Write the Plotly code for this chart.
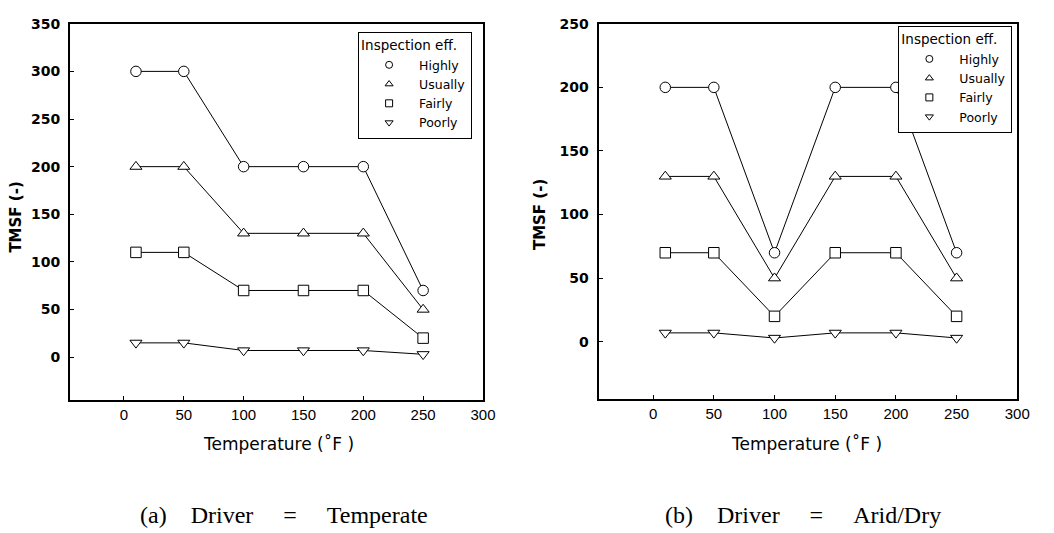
import plotly.graph_objects as go

W, H = 1054, 533

temps = [10, 50, 100, 150, 200, 250]
levels = ["Highly", "Usually", "Fairly", "Poorly"]
symbols = ["circle", "triangle-up", "square", "triangle-down"]

temperate_highly = [300, 300, 200, 200, 200, 70]
temperate_usually = [200, 200, 130, 130, 130, 50]
temperate_fairly = [110, 110, 70, 70, 70, 20]
temperate_poorly = [15, 15, 7, 7, 7, 3]

arid_highly = [200, 200, 70, 200, 200, 70]
arid_usually = [130, 130, 50, 130, 130, 50]
arid_fairly = [70, 70, 20, 70, 70, 20]
arid_poorly = [7, 7, 3, 7, 7, 3]

x_ticks = [0, 50, 100, 150, 200, 250, 300]
y_ticks_a = [0, 50, 100, 150, 200, 250, 300, 350]
y_ticks_b = [0, 50, 100, 150, 200, 250]

panels = [
    dict(series=[temperate_highly, temperate_usually, temperate_fairly, temperate_poorly],
         xa="x", ya="y", legend="legend"),
    dict(series=[arid_highly, arid_usually, arid_fairly, arid_poorly],
         xa="x2", ya="y2", legend="legend2"),
]

SANS = "Liberation Sans, Arial, sans-serif"
WIDE = "DejaVu Sans, Liberation Sans, sans-serif"
NARROW = "Liberation Sans Narrow, Arial Narrow, Liberation Sans, sans-serif"
SERIF = "Liberation Serif, Times New Roman, serif"

fig = go.Figure()
for p in panels:
    for name, sym, vals in zip(levels, symbols, p["series"]):
        fig.add_trace(go.Scatter(
            x=temps, y=vals, mode="lines+markers",
            line=dict(color="black", width=1),
            marker=dict(symbol=sym, size=10.5, color="white",
                        line=dict(color="black", width=1)),
            xaxis=p["xa"], yaxis=p["ya"], showlegend=False, name=name))
    for name, sym in zip(levels, symbols):
        fig.add_trace(go.Scatter(
            x=[None], y=[None], mode="markers",
            marker=dict(symbol=sym, size=7, color="white",
                        line=dict(color="black", width=1)),
            xaxis=p["xa"], yaxis=p["ya"], showlegend=True, name=name,
            legend=p["legend"]))

def px_x(v):
    return v / W

def px_y(v):
    return 1 - v / H

axis_common = dict(showline=True, linecolor="black", linewidth=2, mirror=True,
                   showgrid=False, zeroline=False, ticks="inside", ticklen=4,
                   tickcolor="black", tickwidth=1)

xfont = dict(size=15, family=NARROW)
yfont = dict(size=14, family=WIDE, weight="bold")

fig.update_layout(
    width=W, height=H,
    margin=dict(l=0, r=0, t=0, b=0),
    paper_bgcolor="white", plot_bgcolor="white",
    font=dict(family=SANS, color="black"),
    xaxis=dict(domain=[px_x(71), px_x(489)], range=[-45, 300], tickvals=x_ticks,
               tickfont=xfont, anchor="y", **axis_common),
    yaxis=dict(domain=[px_y(398), px_y(16)], range=[-45, 350], tickvals=y_ticks_a,
               tickfont=yfont, ticklabelstandoff=5, anchor="x", **axis_common),
    xaxis2=dict(domain=[px_x(606), px_x(1030)], range=[-45, 300], tickvals=x_ticks,
                tickfont=xfont, anchor="y2", **axis_common),
    yaxis2=dict(domain=[px_y(397), px_y(16)], range=[-45, 250], tickvals=y_ticks_b,
                tickfont=yfont, ticklabelstandoff=5, anchor="x2", **axis_common),
)

legend_common = dict(bgcolor="white", bordercolor="black", borderwidth=1,
                     font=dict(size=12.5, family=WIDE, color="black"),
                     title=dict(text="Inspection eff.", font=dict(size=13.5, family=WIDE)),
                     itemwidth=50, tracegroupgap=0, xanchor="right", yanchor="top",
                     xref="paper", yref="paper")
fig.update_layout(
    legend=dict(x=px_x(478), y=px_y(24), **legend_common),
    legend2=dict(x=px_x(1025), y=px_y(18), **legend_common),
)

sp1 = "\u00a0" * 4
sp2 = "\u00a0" * 5
annotations = [
    dict(text="TMSF (-)", x=px_x(16), y=px_y(212), textangle=-90,
         font=dict(size=15, family=WIDE, weight="bold")),
    dict(text="TMSF (-)", x=px_x(547), y=px_y(210), textangle=-90,
         font=dict(size=15, family=WIDE, weight="bold")),
    dict(text="Temperature (\u02daF )", x=px_x(282), y=px_y(443),
         font=dict(size=17, family=WIDE)),
    dict(text="Temperature (\u02daF )", x=px_x(817), y=px_y(443),
         font=dict(size=17, family=WIDE)),
    dict(text=f"(a){sp1}Driver{sp2}={sp2}Temperate", x=px_x(288), y=px_y(515),
         font=dict(size=24, family=SERIF)),
    dict(text=f"(b){sp1}Driver{sp2}={sp2}Arid/Dry", x=px_x(813), y=px_y(515),
         font=dict(size=24, family=SERIF)),
]
for a in annotations:
    a.update(xref="paper", yref="paper", showarrow=False, xanchor="center", yanchor="middle")
fig.update_layout(annotations=annotations)

fig.write_html("out.html")
